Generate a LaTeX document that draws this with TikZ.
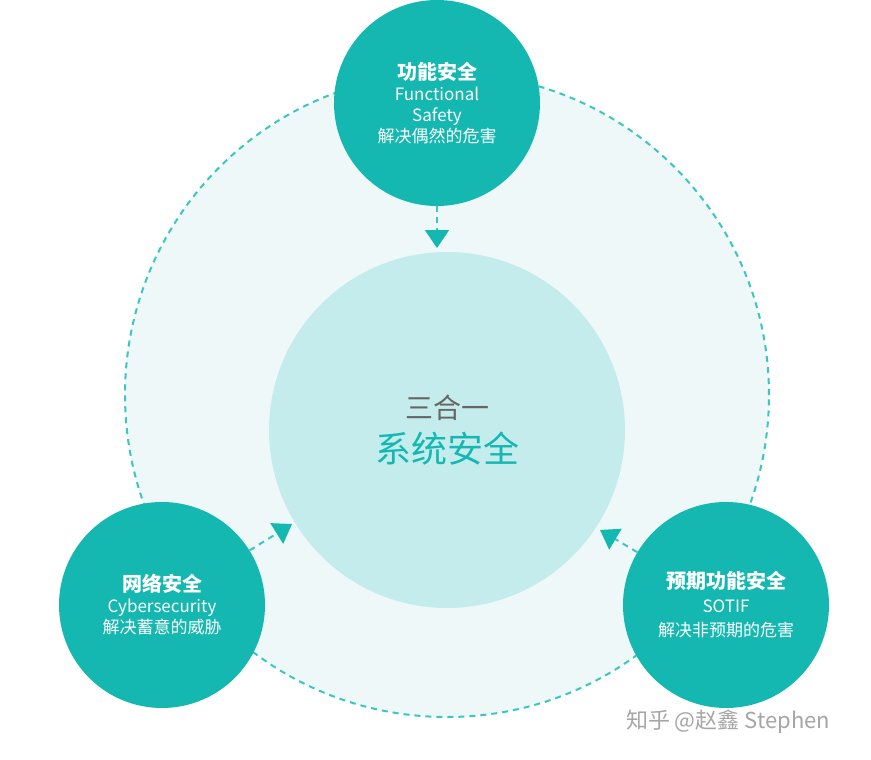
\documentclass[tikz,border=0pt]{standalone}
\usepackage{fontspec}
\setmainfont{Noto Sans CJK SC}
\usetikzlibrary{arrows.meta}
\definecolor{teal1}{HTML}{14B8B1}
\definecolor{ringc}{HTML}{3CC6C0}
\definecolor{pale}{HTML}{EEF8F8}
\definecolor{mid}{HTML}{C5ECEC}
\begin{document}
\begin{tikzpicture}[x=1pt,y=-1pt,
  sat/.style={circle,fill=teal1,minimum size=206pt,inner sep=0pt,text=white,align=center,font=\fontsize{17}{21}\selectfont},
  dline/.style={draw=ringc,line width=2pt,dash pattern=on 6pt off 5pt},
  arr/.style={dline,-{Triangle[length=18pt,width=24pt,color=teal1,fill=teal1]}}]
\useasboundingbox (0,0) rectangle (871,760);
\fill[white] (0,0) rectangle (871,760);
\node[circle,fill=pale,dline,minimum size=644pt] (ring) at (447,395) {};
\node[circle,fill=mid,minimum size=356pt,align=center,font=\fontsize{36}{44}\selectfont] (core) at (447,430)
 {{\fontsize{28}{30}\selectfont\color{gray!80!black}三合一}\\\color{teal1}系统安全};
\node[sat] (fs) at (437,103) {{\fontsize{20}{24}\selectfont\bfseries 功能安全}\\Functional\\Safety\\解决偶然的危害};
\node[sat] (cs) at (162,605) {{\fontsize{20}{24}\selectfont\bfseries 网络安全}\\Cybersecurity\\解决蓄意的威胁};
\node[sat] (so) at (726,605) {{\fontsize{20}{24}\selectfont\bfseries 预期功能安全}\\[3pt]SOTIF\\[3pt]解决非预期的危害};
\draw[arr] (fs) -- (437,248);
\draw[arr] (cs) -- (292,524);
\draw[arr] (so) -- (600,530);
\node[text=gray!70,font=\fontsize{22}{26}\selectfont] (wm) at (728,722) {知乎 @赵鑫 Stephen};
\end{tikzpicture}
\end{document}
